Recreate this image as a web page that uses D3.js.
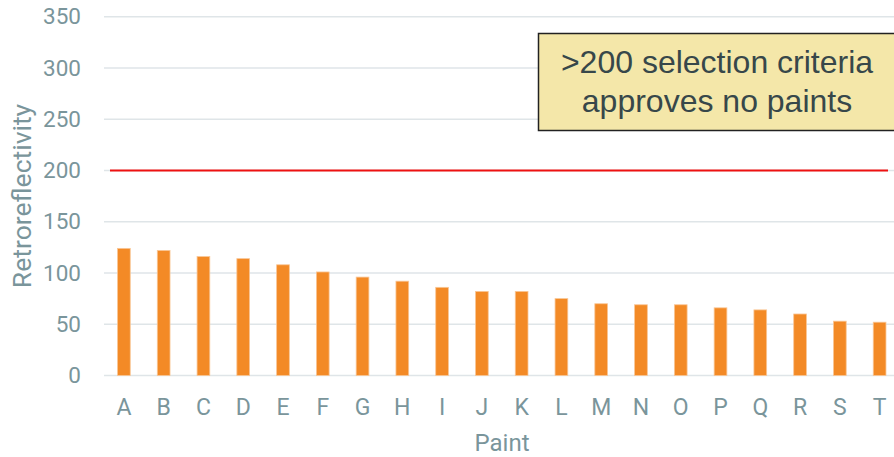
<!DOCTYPE html>
<html>
<head>
<meta charset="utf-8">
<script src="https://cdn.jsdelivr.net/npm/d3@7"></script>
<style>
  body { margin: 0; background: #fff; }
</style>
</head>
<body>
<div id="chart"></div>
<script>
// chart data
var paints = ["A", "B", "C", "D", "E", "F", "G", "H", "I", "J", "K", "L", "M", "N", "O", "P", "Q", "R", "S", "T"];
var retro = [124, 122, 116, 114, 108, 101, 96, 92, 86, 82, 82, 75, 70, 69, 69, 66, 64, 60, 53, 52];
var yTicks = [0, 50, 100, 150, 200, 250, 300, 350];
var criteria = 200;
var noteLines = [">200 selection criteria", "approves no paints"];

var w = 894;
var h = 457;
var textColor = "#7a959b";

var svg = d3.select("#chart")
    .append("svg")
    .attr("width", w)
    .attr("height", h);

var xScale = d3.scaleBand()
    .domain(paints)
    .range([104, 899.5])
    .paddingInner(0.68)
    .paddingOuter(0.34);

var yScale = d3.scaleLinear()
    .domain([0, 350])
    .range([375.5, 16.7]);

// gridlines
svg.selectAll("line.grid")
    .data(yTicks)
    .enter()
    .append("line")
    .attr("class", "grid")
    .attr("x1", 104)
    .attr("x2", w)
    .attr("y1", function (d) { return yScale(d); })
    .attr("y2", function (d) { return yScale(d); })
    .attr("stroke", "#dfe5e8")
    .attr("stroke-width", 1.6);

// y axis labels
var yAxis = d3.axisLeft(yScale)
    .tickValues(yTicks)
    .tickSize(0)
    .tickPadding(0);

var yG = svg.append("g")
    .attr("transform", "translate(81,0)")
    .call(yAxis);
yG.select(".domain").remove();
yG.selectAll("text")
    .attr("fill", textColor)
    .attr("font-family", "Roboto, sans-serif")
    .attr("font-size", "22.5px");

// x axis labels
var xAxis = d3.axisBottom(xScale)
    .tickSize(0)
    .tickPadding(0);

var xG = svg.append("g")
    .attr("transform", "translate(0,399)")
    .call(xAxis);
xG.select(".domain").remove();
xG.selectAll("text")
    .attr("fill", textColor)
    .attr("font-family", "Roboto, sans-serif")
    .attr("font-size", "23px");

// bars
svg.selectAll("rect.bar")
    .data(retro)
    .enter()
    .append("rect")
    .attr("class", "bar")
    .attr("x", function (d, i) { return xScale(paints[i]); })
    .attr("y", function (d) { return yScale(d); })
    .attr("width", xScale.bandwidth())
    .attr("height", function (d) { return yScale(0) - yScale(d); })
    .attr("fill", "#f38a26")
    .attr("stroke", "#f9c696")
    .attr("stroke-width", 0.8);

// criteria line
svg.append("line")
    .attr("x1", 110)
    .attr("x2", 888)
    .attr("y1", yScale(criteria))
    .attr("y2", yScale(criteria))
    .attr("stroke", "#ee1111")
    .attr("stroke-width", 2);

// axis titles
svg.append("text")
    .attr("transform", "translate(31,196) rotate(-90)")
    .attr("text-anchor", "middle")
    .attr("fill", textColor)
    .attr("font-family", "Roboto, sans-serif")
    .attr("font-size", "26.5px")
    .text("Retroreflectivity");

svg.append("text")
    .attr("x", 502)
    .attr("y", 451)
    .attr("text-anchor", "middle")
    .attr("fill", textColor)
    .attr("font-family", "Roboto, sans-serif")
    .attr("font-size", "24px")
    .text("Paint");

// note box
svg.append("rect")
    .attr("x", 538.5)
    .attr("y", 33.5)
    .attr("width", 358)
    .attr("height", 97)
    .attr("fill", "#f4e7a9")
    .attr("stroke", "#222")
    .attr("stroke-width", 1.5);

svg.selectAll("text.note")
    .data(noteLines)
    .enter()
    .append("text")
    .attr("class", "note")
    .attr("x", 717)
    .attr("y", function (d, i) { return 73 + i * 38.5; })
    .attr("text-anchor", "middle")
    .attr("fill", "#37474a")
    .attr("font-family", "'Liberation Sans', Arial, sans-serif")
    .attr("font-size", "32px")
    .text(function (d) { return d; });
</script>
</body>
</html>
